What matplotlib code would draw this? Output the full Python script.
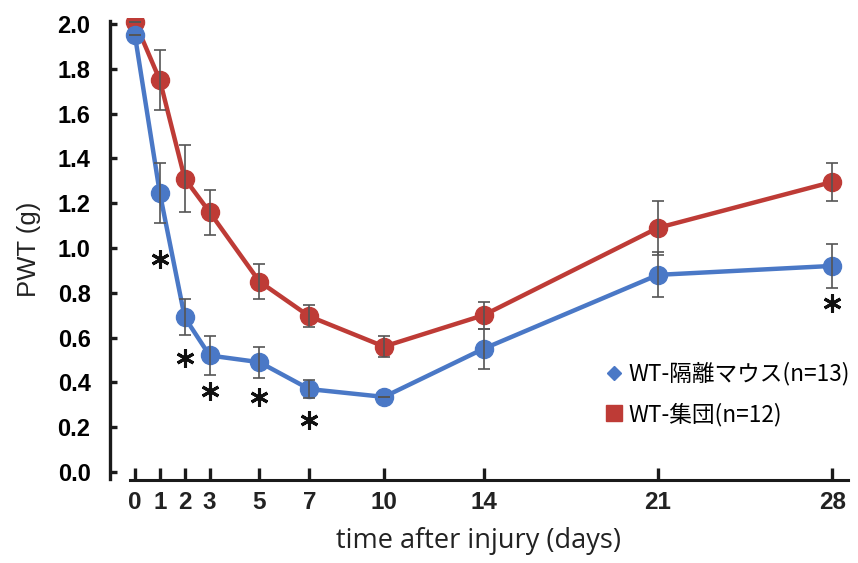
import matplotlib.pyplot as plt
from matplotlib.lines import Line2D

days = [0, 1, 2, 3, 5, 7, 10, 14, 21, 28]

# WT isolated mice (n=13)
iso_mean = [1.95, 1.245, 0.69, 0.52, 0.49, 0.37, 0.335, 0.55, 0.88, 0.92]
iso_err = [0.0, 0.135, 0.08, 0.085, 0.07, 0.04, 0.0, 0.09, 0.10, 0.10]

# WT group housed (n=12)
grp_mean = [2.01, 1.75, 1.31, 1.16, 0.85, 0.695, 0.56, 0.70, 1.09, 1.295]
grp_err = [0.0, 0.135, 0.15, 0.10, 0.08, 0.05, 0.045, 0.06, 0.12, 0.085]

# significance marks
sig_days = [1, 2, 3, 5, 7, 28]
sig_y = [0.95, 0.51, 0.36, 0.335, 0.23, 0.755]

labels = ['WT-隔離マウス(n=13)', 'WT-集団(n=12)']
blue = '#4A78C6'
red = '#BE3B36'

fig = plt.figure(figsize=(8.58, 5.63), dpi=100)
ax = fig.add_axes([110 / 858, 1 - 480 / 563, 738 / 858, 462 / 563])

ax.plot(days, grp_mean, color=red, lw=3.2, marker='o', ms=13, zorder=2)
ax.plot(days, iso_mean, color=blue, lw=3.2, marker='o', ms=13, zorder=2)
ax.errorbar(days, grp_mean, yerr=grp_err, fmt='none', ecolor='#555555',
            elinewidth=1.2, capsize=4.3, capthick=1.2, zorder=3)
ax.errorbar(days, iso_mean, yerr=iso_err, fmt='none', ecolor='#555555',
            elinewidth=1.2, capsize=4.3, capthick=1.2, zorder=3)
ax.plot(sig_days, sig_y, ls='none', marker=(6, 2, 0), ms=13, mew=2.2,
        color='#111111', zorder=4)

ax.set_xlim(-1.0, 28.63)
ax.set_ylim(-0.036, 2.027)
ax.set_xticks(days)
ax.set_yticks([0.0, 0.2, 0.4, 0.6, 0.8, 1.0, 1.2, 1.4, 1.6, 1.8, 2.0])
ax.set_yticklabels(['%.1f' % v for v in ax.get_yticks()],
                   fontfamily='Liberation Sans', fontweight='bold', fontsize=17)
ax.set_xticklabels([str(d) for d in days], fontfamily='Liberation Sans',
                   fontweight='bold', fontsize=17.5, color='#222222')

for s in ['top', 'right']:
    ax.spines[s].set_visible(False)
ax.spines['left'].set_linewidth(2.4)
ax.spines['bottom'].set_linewidth(2.2)
ax.spines['left'].set_color('#1a1a1a')
ax.spines['bottom'].set_color('#1a1a1a')
ax.spines['left'].set_bounds(-0.03, 2.015)
ax.spines['bottom'].set_bounds(-0.2, 28.63)

ax.tick_params(axis='y', direction='in', length=5, width=2.4, pad=14,
               color='#1a1a1a')
ax.tick_params(axis='x', direction='in', length=8.5, width=2.4, pad=8,
               color='#1a1a1a')

ax.set_xlabel('time after injury (days)', fontfamily='Open Sans',
              fontsize=19.5, color='#222222', labelpad=9)
ax.set_ylabel('PWT (g)', fontfamily='Liberation Sans', fontsize=18.5,
              color='#222222', labelpad=12)

handles = [Line2D([], [], ls='none', marker='D', ms=7, color=blue),
           Line2D([], [], ls='none', marker='s', ms=11, color=red)]
ax.legend(handles, labels, loc='upper left',
          bbox_to_anchor=(605 / 858, 1 - 362 / 563),
          bbox_transform=fig.transFigure, frameon=False,
          prop={'family': ['Noto Sans CJK JP', 'DejaVu Sans'], 'size': 16.3},
          handlelength=0.8, handletextpad=0.25, labelspacing=0.75,
          borderpad=0, borderaxespad=0)

fig.savefig('out.png', dpi=100)
